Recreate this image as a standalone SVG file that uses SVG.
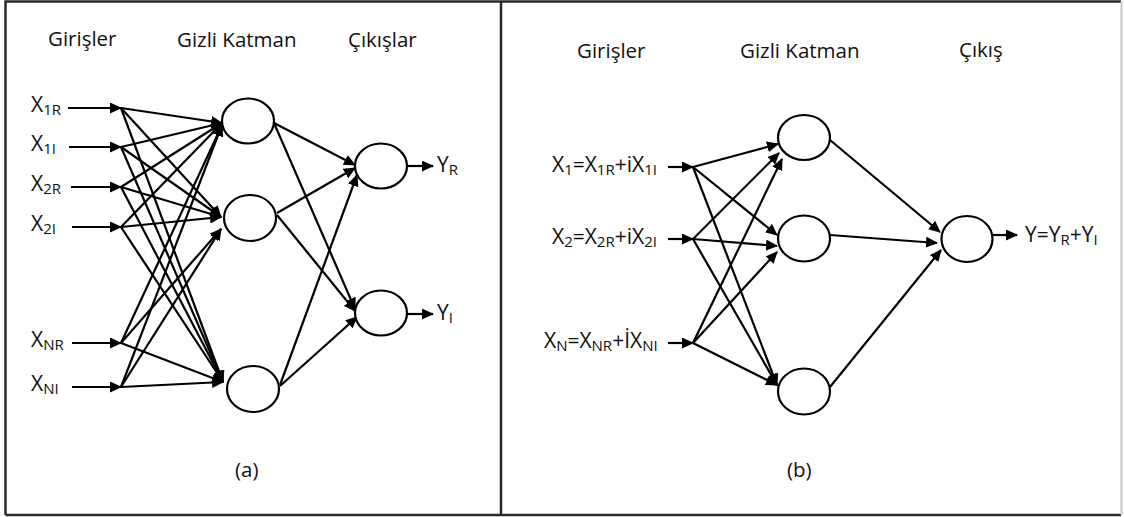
<svg xmlns="http://www.w3.org/2000/svg" width="1124" height="517" viewBox="0 0 1124 517">
  <defs>
    <marker id="ah" markerUnits="userSpaceOnUse" markerWidth="12" markerHeight="11" refX="11" refY="5.5" orient="auto">
      <path d="M0,0 L12,5.5 L0,11 z" fill="#000"/>
    </marker>
    <style>
      .t { font-family: "Open Sans", "Noto Sans", "Liberation Sans", sans-serif; font-size: 20.5px; fill: #111; }
      .lb { font-size: 21px; }
      .s { font-size: 15px; }
      .c { fill: none; stroke: #000; stroke-width: 2.2; marker-end: url(#ah); }
      .n { fill: #fff; stroke: #000; stroke-width: 2.2; }
      .frame { stroke: #2a2a2a; stroke-width: 2.5; fill: none; }
    </style>
  </defs>
  <rect width="1124" height="517" fill="#fff"/>

  <!-- frame and panel divider -->
  <g id="frame">
    <path class="frame" d="M5.5,515 L5.5,1.5 L1121,1.5"/>
    <path class="frame" d="M5.5,515 L1121,515"/>
    <line x1="1121.5" y1="1.5" x2="1121.5" y2="515" stroke="#c8c8c8" stroke-width="2"/>
    <line x1="501" y1="1.5" x2="501" y2="515" stroke="#2a2a2a" stroke-width="2.5"/>
  </g>

  <!-- column titles -->
  <g id="titles" class="t">
    <text x="48" y="46">Girişler</text>
    <text x="177" y="47">Gizli Katman</text>
    <text x="348" y="47">Çıkışlar</text>
    <text x="577" y="58">Girişler</text>
    <text x="740" y="58">Gizli Katman</text>
    <text x="959" y="57">Çıkış</text>
    <text x="235" y="477">(a)</text>
    <text x="787" y="477">(b)</text>
  </g>

  <!-- connectors -->
  <g id="connectors">
    <!-- (a) input stubs -->
    <line class="c" x1="68" y1="108" x2="121" y2="108"/>
    <line class="c" x1="69" y1="147" x2="121" y2="147"/>
    <line class="c" x1="71" y1="187" x2="121" y2="187"/>
    <line class="c" x1="72" y1="227" x2="121" y2="227"/>
    <line class="c" x1="72" y1="343" x2="121" y2="343"/>
    <line class="c" x1="72" y1="387" x2="121" y2="387"/>
    <!-- (a) inputs to hidden layer -->
    <line class="c" x1="121" y1="108" x2="222" y2="123"/>
    <line class="c" x1="121" y1="108" x2="221" y2="217"/>
    <line class="c" x1="121" y1="108" x2="223" y2="382"/>
    <line class="c" x1="121" y1="147" x2="222" y2="123"/>
    <line class="c" x1="121" y1="147" x2="221" y2="217"/>
    <line class="c" x1="121" y1="147" x2="223" y2="382"/>
    <line class="c" x1="121" y1="187" x2="222" y2="123"/>
    <line class="c" x1="121" y1="187" x2="221" y2="217"/>
    <line class="c" x1="121" y1="187" x2="223" y2="382"/>
    <line class="c" x1="121" y1="227" x2="222" y2="123"/>
    <line class="c" x1="121" y1="227" x2="221" y2="217"/>
    <line class="c" x1="121" y1="227" x2="223" y2="382"/>
    <line class="c" x1="121" y1="343" x2="222" y2="125"/>
    <line class="c" x1="121" y1="343" x2="221" y2="229"/>
    <line class="c" x1="121" y1="343" x2="223" y2="382"/>
    <line class="c" x1="121" y1="387" x2="222" y2="125"/>
    <line class="c" x1="121" y1="387" x2="221" y2="229"/>
    <line class="c" x1="121" y1="387" x2="223" y2="382"/>
    <!-- (a) hidden to outputs -->
    <line class="c" x1="274" y1="123" x2="355" y2="165"/>
    <line class="c" x1="274" y1="123" x2="355" y2="309"/>
    <line class="c" x1="277" y1="213" x2="355" y2="168"/>
    <line class="c" x1="277" y1="215" x2="355" y2="311"/>
    <line class="c" x1="280" y1="385" x2="357" y2="175"/>
    <line class="c" x1="280" y1="386" x2="357" y2="317"/>
    <!-- (a) output stubs -->
    <line class="c" x1="407" y1="166" x2="433" y2="166"/>
    <line class="c" x1="407" y1="314" x2="433" y2="314"/>

    <!-- (b) input stubs -->
    <line class="c" x1="668" y1="167" x2="693" y2="167"/>
    <line class="c" x1="668" y1="239" x2="693" y2="239"/>
    <line class="c" x1="668" y1="343" x2="693" y2="343"/>
    <!-- (b) inputs to hidden layer -->
    <line class="c" x1="693" y1="167" x2="778" y2="144"/>
    <line class="c" x1="693" y1="167" x2="777" y2="235"/>
    <line class="c" x1="693" y1="167" x2="777" y2="385"/>
    <line class="c" x1="693" y1="239" x2="779" y2="153"/>
    <line class="c" x1="693" y1="239" x2="777" y2="246"/>
    <line class="c" x1="693" y1="239" x2="777" y2="385"/>
    <line class="c" x1="693" y1="343" x2="782" y2="159"/>
    <line class="c" x1="693" y1="343" x2="777" y2="252"/>
    <line class="c" x1="693" y1="343" x2="777" y2="385"/>
    <!-- (b) hidden to output -->
    <line class="c" x1="830" y1="140" x2="940" y2="232"/>
    <line class="c" x1="830" y1="235" x2="937" y2="243"/>
    <line class="c" x1="830" y1="387" x2="941" y2="250"/>
    <!-- (b) output stub -->
    <line class="c" x1="993" y1="235" x2="1017" y2="235"/>
  </g>

  <!-- (a) input labels -->
  <g id="a-in1" class="t lb"><text x="31" y="112">X<tspan class="s" dy="3">1R</tspan></text></g>
  <g id="a-in2" class="t lb"><text x="31" y="151">X<tspan class="s" dy="3">1I</tspan></text></g>
  <g id="a-in3" class="t lb"><text x="31" y="191">X<tspan class="s" dy="3">2R</tspan></text></g>
  <g id="a-in4" class="t lb"><text x="31" y="231">X<tspan class="s" dy="3">2I</tspan></text></g>
  <g id="a-in5" class="t lb"><text x="31" y="347">X<tspan class="s" dy="3">NR</tspan></text></g>
  <g id="a-in6" class="t lb"><text x="31" y="391">X<tspan class="s" dy="3">NI</tspan></text></g>

  <!-- (a) hidden layer -->
  <g id="a-h1"><ellipse class="n" cx="248" cy="121" rx="26" ry="22.5"/></g>
  <g id="a-h2"><ellipse class="n" cx="250" cy="218" rx="26" ry="23"/></g>
  <g id="a-h3"><ellipse class="n" cx="253" cy="389" rx="26" ry="23"/></g>

  <!-- (a) outputs -->
  <g id="a-out-r">
    <ellipse class="n" cx="381" cy="166" rx="26" ry="22.5"/>
    <text class="t lb" x="437" y="172">Y<tspan class="s" dy="3">R</tspan></text>
  </g>
  <g id="a-out-i">
    <ellipse class="n" cx="381" cy="313" rx="26" ry="22.5"/>
    <text class="t lb" x="437" y="320">Y<tspan class="s" dy="3">I</tspan></text>
  </g>

  <!-- (b) input labels -->
  <g id="b-in1" class="t lb"><text x="552" y="172">X<tspan class="s" dy="3">1</tspan><tspan dy="-3">=X</tspan><tspan class="s" dy="3">1R</tspan><tspan dy="-3">+iX</tspan><tspan class="s" dy="3">1I</tspan></text></g>
  <g id="b-in2" class="t lb"><text x="552" y="244">X<tspan class="s" dy="3">2</tspan><tspan dy="-3">=X</tspan><tspan class="s" dy="3">2R</tspan><tspan dy="-3">+iX</tspan><tspan class="s" dy="3">2I</tspan></text></g>
  <g id="b-in3" class="t lb"><text x="544" y="348">X<tspan class="s" dy="3">N</tspan><tspan dy="-3">=X</tspan><tspan class="s" dy="3">NR</tspan><tspan dy="-3">+İX</tspan><tspan class="s" dy="3">NI</tspan></text></g>

  <!-- (b) hidden layer -->
  <g id="b-h1"><ellipse class="n" cx="804" cy="137.5" rx="26" ry="22.5"/></g>
  <g id="b-h2"><ellipse class="n" cx="804" cy="238.5" rx="26" ry="23"/></g>
  <g id="b-h3"><ellipse class="n" cx="804" cy="391.5" rx="26" ry="23"/></g>

  <!-- (b) output -->
  <g id="b-out">
    <ellipse class="n" cx="967" cy="239" rx="25.5" ry="23"/>
    <text class="t lb" x="1025" y="242">Y=Y<tspan class="s" dy="3">R</tspan><tspan dy="-3">+Y</tspan><tspan class="s" dy="3">I</tspan></text>
  </g>
</svg>
